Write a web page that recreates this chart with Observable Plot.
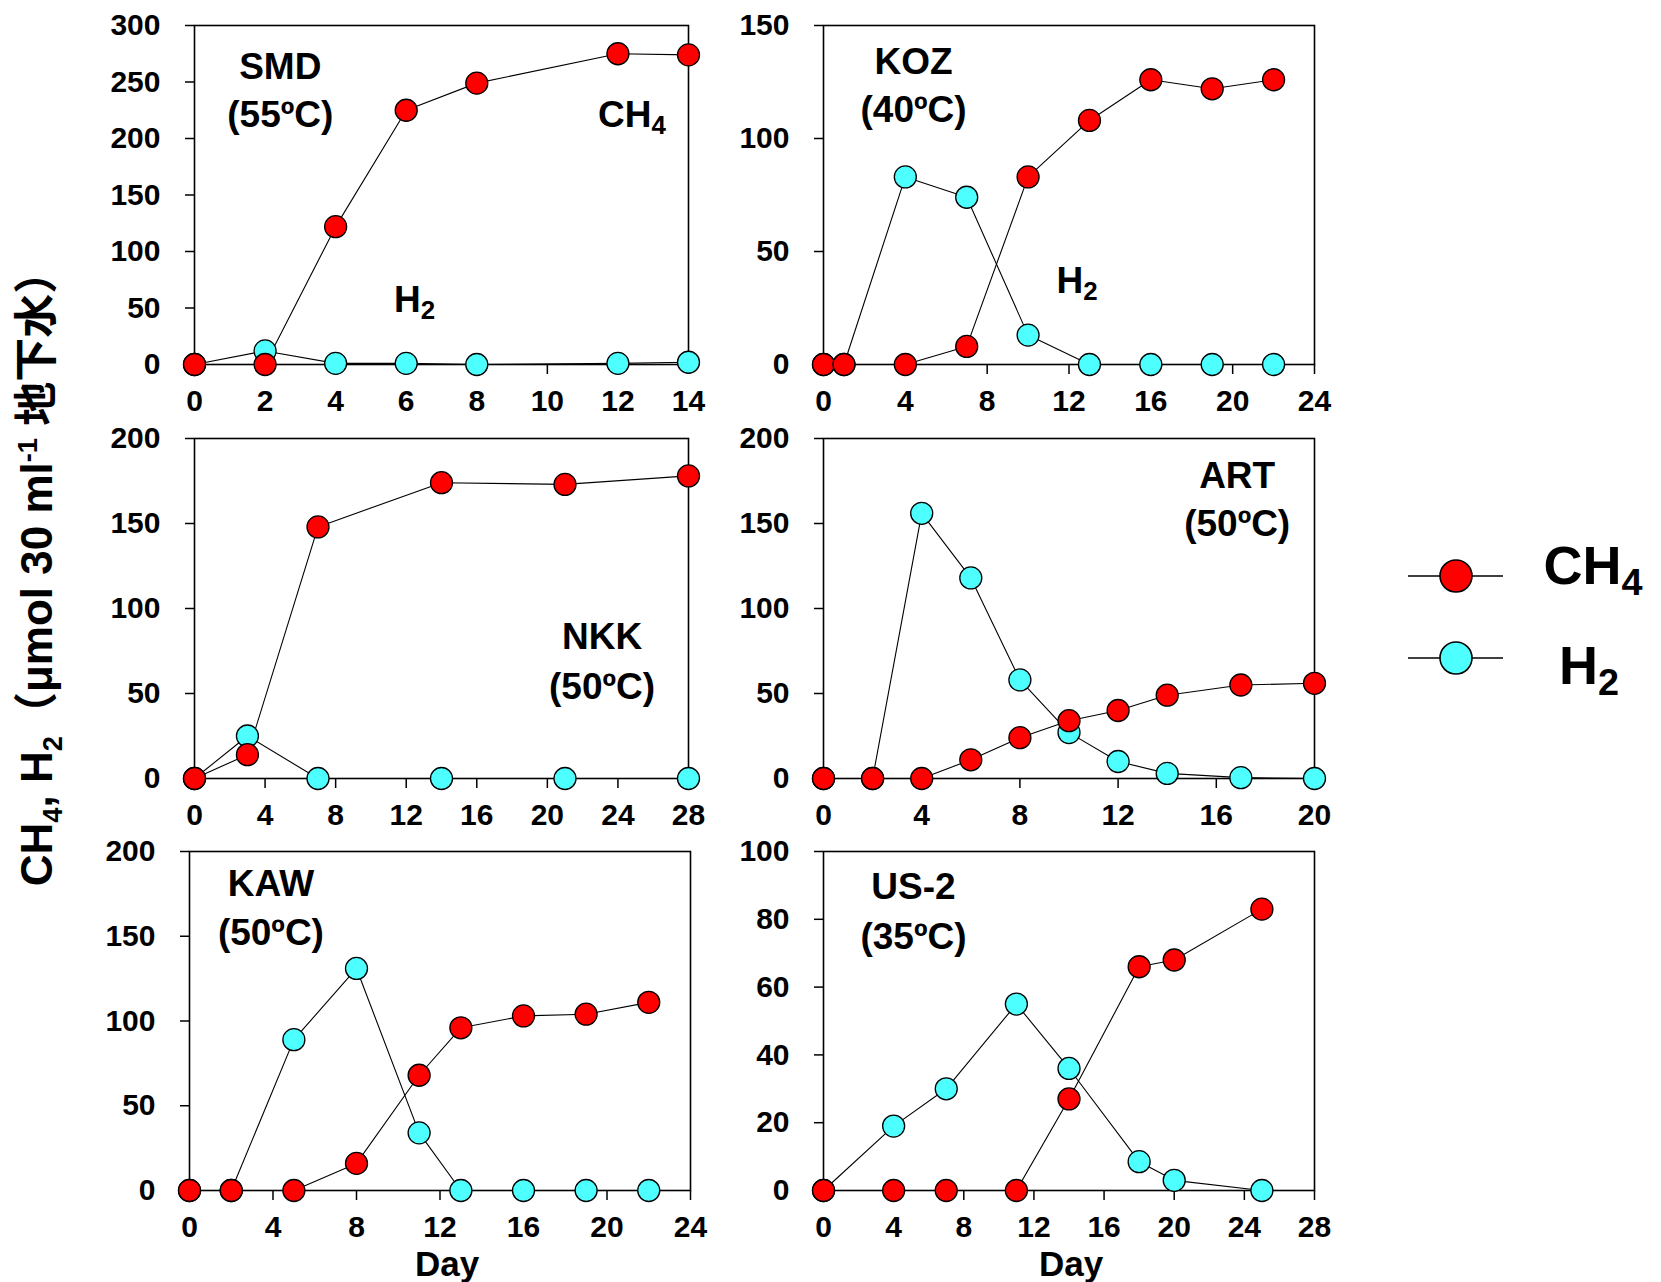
<!DOCTYPE html>
<html>
<head>
<meta charset="utf-8">
<script src="https://cdn.jsdelivr.net/npm/d3@7"></script>
<script src="https://cdn.jsdelivr.net/npm/@observablehq/plot@0.6"></script>
<style>
  html, body { margin: 0; padding: 0; background: #fff; }
  #wrap { position: relative; width: 1661px; height: 1282px; overflow: hidden; background: #fff;
          font-family: "Liberation Sans", Arial, sans-serif; }
  #ylabel { position: absolute; white-space: nowrap; font-weight: bold; font-size: 44px;
            font-family: "Liberation Sans", Arial, "Noto Sans CJK JP", sans-serif; line-height: 1; }
  #ylabel sub, #ylabel sup { font-size: 62%; line-height: 0; }
</style>
</head>
<body>
<div id="wrap"></div>
<script>
// ---- data ----
const smdDay = [0, 2, 4, 6, 8, 12, 14];
const smdCH4 = [0, 0, 122, 225, 249, 275, 274];
const smdH2  = [0, 12, 1, 1, 0, 1, 2];

const kozDay = [0, 1, 4, 7, 10, 13, 16, 19, 22];
const kozCH4 = [0, 0, 0, 8, 83, 108, 126, 122, 126];
const kozH2  = [0, 0, 83, 74, 13, 0, 0, 0, 0];

const nkkDay = [0, 3, 7, 14, 21, 28];
const nkkCH4 = [0, 14, 148, 174, 173, 178];
const nkkH2  = [0, 25, 0, 0, 0, 0];

const artDay = [0, 2, 4, 6, 8, 10, 12, 14, 17, 20];
const artCH4 = [0, 0, 0, 11, 24, 34, 40, 49, 55, 56];
const artH2  = [0, 0, 156, 118, 58, 27, 10, 3, 0.5, 0];

const kawDay = [0, 2, 5, 8, 11, 13, 16, 19, 22];
const kawCH4 = [0, 0, 0, 16, 68, 96, 103, 104, 111];
const kawH2  = [0, 0, 89, 131, 34, 0, 0, 0, 0];

const us2Day = [0, 4, 7, 11, 14, 18, 20, 25];
const us2CH4 = [0, 0, 0, 0, 27, 66, 68, 83];
const us2H2  = [0, 19, 30, 55, 36, 8.5, 3, 0];

const ticks4 = (max) => d3.range(0, max + 1, 4);
const smdXTicks = d3.range(0, 15, 2);
const smdYTicks = d3.range(0, 301, 50);
const kozYTicks = d3.range(0, 151, 50);
const y200Ticks = d3.range(0, 201, 50);
const us2YTicks = d3.range(0, 101, 20);

const seriesNames = ["CH4", "H2"];
const seriesColors = ["#ff0000", "#4dffff"];

// ---- panels ----
const panels = [
  { day: smdDay, ch4: smdCH4, h2: smdH2, xMax: 14, xTicks: smdXTicks, yMax: 300, yTicks: smdYTicks,
    box: [194, 25, 688, 364],
    notes: [{x: 2.43, y: 263, t: "SMD"}, {x: 2.43, y: 221, t: "(55ºC)"}, {x: 12.4, y: 221, t: "CH4"}, {x: 6.24, y: 57, t: "H2"}] },
  { day: kozDay, ch4: kozCH4, h2: kozH2, xMax: 24, xTicks: ticks4(24), yMax: 150, yTicks: kozYTicks,
    box: [823, 25, 1314, 364],
    notes: [{x: 4.4, y: 134, t: "KOZ"}, {x: 4.4, y: 112.6, t: "(40ºC)"}, {x: 12.4, y: 37, t: "H2"}] },
  { day: nkkDay, ch4: nkkCH4, h2: nkkH2, xMax: 28, xTicks: ticks4(28), yMax: 200, yTicks: y200Ticks,
    box: [194, 437.5, 688, 777.5],
    notes: [{x: 23.1, y: 83, t: "NKK"}, {x: 23.1, y: 54, t: "(50ºC)"}] },
  { day: artDay, ch4: artCH4, h2: artH2, xMax: 20, xTicks: ticks4(20), yMax: 200, yTicks: y200Ticks,
    box: [823, 437.5, 1314, 777.5],
    notes: [{x: 16.85, y: 178, t: "ART"}, {x: 16.85, y: 149.5, t: "(50ºC)"}] },
  { day: kawDay, ch4: kawCH4, h2: kawH2, xMax: 24, xTicks: ticks4(24), yMax: 200, yTicks: y200Ticks,
    box: [189, 851, 690, 1190], dayLabel: true, dayDx: 7,
    notes: [{x: 3.9, y: 181, t: "KAW"}, {x: 3.9, y: 152, t: "(50ºC)"}] },
  { day: us2Day, ch4: us2CH4, h2: us2H2, xMax: 28, xTicks: ticks4(28), yMax: 100, yTicks: us2YTicks,
    box: [823, 851, 1314, 1190], dayLabel: true, dayDx: 2,
    notes: [{x: 5.13, y: 89.4, t: "US-2"}, {x: 5.13, y: 74.7, t: "(35ºC)"}] }
];

const wrap = document.getElementById("wrap");

function subscriptify(root) {
  d3.select(root).selectAll("text").each(function () {
    const t = this.textContent;
    const m = /^(CH|H)(\d)$/.exec(t);
    if (m) {
      this.textContent = "";
      const sel = d3.select(this);
      sel.append("tspan").text(m[1]);
      sel.append("tspan").attr("font-size", "70%").attr("dy", "0.28em").text(m[2]);
    }
  });
}

const ml = 110, mr = 30, mt = 20, mb = 100;

for (const p of panels) {
  const [l, t, r, b] = p.box;
  const w = r - l + ml + mr;
  const h = b - t + mt + mb;
  const ch4Rows = p.day.map((d, i) => ({day: d, v: p.ch4[i]}));
  const h2Rows = p.day.map((d, i) => ({day: d, v: p.h2[i]}));
  const marks = [
    Plot.frame({stroke: "black", strokeWidth: 1.6}),
    Plot.axisX({ticks: p.xTicks, tickSize: 10, tickPadding: 15, label: null, tickFormat: d => d, strokeWidth: 1.5}),
    Plot.axisY({ticks: p.yTicks, tickSize: 9, tickPadding: 25, label: null, tickFormat: d => d, strokeWidth: 1.5}),
    Plot.line(h2Rows, {x: "day", y: "v", stroke: "black", strokeWidth: 1.1}),
    Plot.line(ch4Rows, {x: "day", y: "v", stroke: "black", strokeWidth: 1.1}),
    Plot.dot(h2Rows, {x: "day", y: "v", r: 11, fill: seriesColors[1], stroke: "black", strokeWidth: 1.3}),
    Plot.dot(ch4Rows, {x: "day", y: "v", r: 11, fill: seriesColors[0], stroke: "black", strokeWidth: 1.3}),
    Plot.text(p.notes, {x: "x", y: "y", text: "t", fontSize: 37, fontWeight: "bold", fill: "black"})
  ];
  if (p.dayLabel) {
    marks.push(Plot.text(["Day"], {text: d => d, frameAnchor: "bottom", dy: 61, dx: p.dayDx, lineAnchor: "top",
      fontSize: 35, fontWeight: "bold", fill: "black"}));
  }
  const chart = Plot.plot({
    width: w, height: h,
    marginLeft: ml, marginRight: mr, marginTop: mt, marginBottom: mb,
    x: {domain: [0, p.xMax]},
    y: {domain: [0, p.yMax]},
    style: {fontFamily: "'Liberation Sans', Arial, sans-serif", fontSize: "30px", fontWeight: "bold",
            color: "black", background: "transparent", overflow: "visible"},
    marks
  });
  chart.style.position = "absolute";
  chart.style.left = (l - ml) + "px";
  chart.style.top = (t - mt) + "px";
  subscriptify(chart);
  wrap.appendChild(chart);
}

// ---- y label ----
const yl = document.createElement("div");
yl.id = "ylabel";
yl.innerHTML = "CH<sub>4</sub>, H<sub>2</sub>（μmol 30 ml<sup>-1</sup> 地下水）";
wrap.appendChild(yl);
const rect = yl.getBoundingClientRect();
yl.style.left = (37 - rect.width / 2) + "px";
yl.style.top = (568 - rect.height / 2) + "px";
yl.style.transform = "rotate(-90deg)";

// ---- legend ----
const leg = d3.create("svg").attr("width", 1661).attr("height", 1282)
  .style("position", "absolute").style("left", "0px").style("top", "0px").style("pointer-events", "none");
const legRows = [{y: 576, ty: 584, tx: 1593}, {y: 658, ty: 684, tx: 1589}];
legRows.forEach((row, i) => {
  leg.append("line").attr("x1", 1408).attr("x2", 1503).attr("y1", row.y).attr("y2", row.y)
    .attr("stroke", "black").attr("stroke-width", 1.6);
  leg.append("circle").attr("cx", 1456).attr("cy", row.y).attr("r", 16)
    .attr("fill", seriesColors[i]).attr("stroke", "black").attr("stroke-width", 1.6);
  leg.append("text").attr("x", row.tx).attr("y", row.ty).attr("text-anchor", "middle")
    .attr("font-family", "'Liberation Sans', Arial, sans-serif").attr("font-weight", "bold")
    .attr("font-size", 54).text(seriesNames[i]);
});
subscriptify(leg.node());
wrap.appendChild(leg.node());
</script>
</body>
</html>
